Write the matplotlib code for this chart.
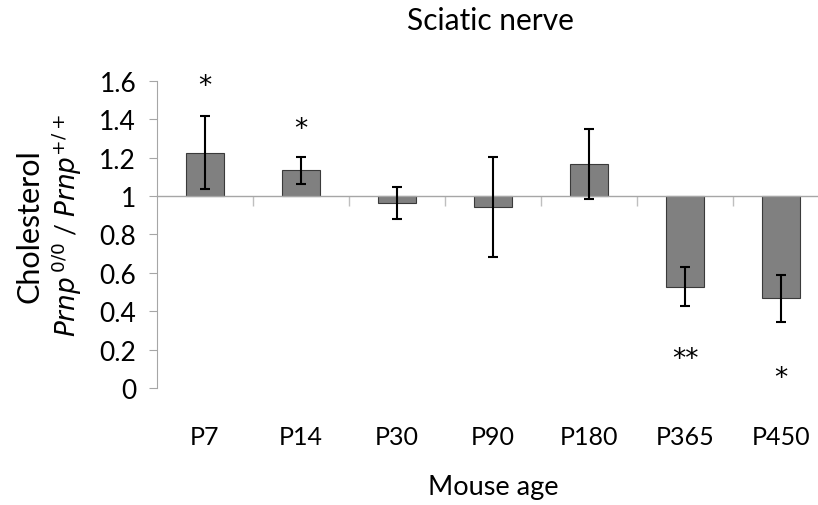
import matplotlib
matplotlib.use("Agg")
import matplotlib.pyplot as plt
import numpy as np

categories = ["P7", "P14", "P30", "P90", "P180", "P365", "P450"]
values = [1.225, 1.134, 0.964, 0.944, 1.167, 0.528, 0.466]
errors = [0.19, 0.07, 0.085, 0.26, 0.183, 0.10, 0.124]
stars = ["*", "*", "", "", "", "**", "*"]
star_y = [1.57, 1.35, None, None, None, 0.15, 0.05]
baseline = 1.0

plt.rcParams['font.family'] = ['Lato', 'DejaVu Sans']

fig = plt.figure(figsize=(8.18, 5.06), dpi=100)
W, H = 818, 506
ax = fig.add_axes([157 / W, (H - 389) / H, (818 - 157) / W, (389 - 81.7) / H])

x = np.arange(len(categories))
heights = [v - baseline for v in values]
ax.bar(x, heights, bottom=baseline, width=0.4, color="#808080",
       edgecolor="#3a3a3a", linewidth=0.8, zorder=2)
ax.errorbar(x, values, yerr=errors, fmt="none", ecolor="black",
            elinewidth=1.5, capsize=3.5, capthick=1.5, zorder=3)

for xi, s, sy in zip(x, stars, star_y):
    if s:
        ax.text(xi, sy, s, ha="center", va="center", fontsize=19, color="black",
                family="DejaVu Sans")

ax.set_ylim(0, 1.6)
ax.set_xlim(-0.5, -0.5 + (818 - 157) / 96.0)
ax.set_yticks(np.arange(0, 1.61, 0.2))
ax.set_yticklabels(["0", "0.2", "0.4", "0.6", "0.8", "1", "1.2", "1.4", "1.6"])

for s in ["top", "right"]:
    ax.spines[s].set_visible(False)
ax.spines["left"].set_color("#a6a6a6")
ax.spines["bottom"].set_position(("data", baseline))
ax.spines["bottom"].set_color("#a6a6a6")
ax.spines["bottom"].set_linewidth(1.0)

ax.set_xticks(x)
ax.set_xticklabels(categories)
ax.set_xticks(x[:-1] + 0.5, minor=True)
ax.tick_params(axis="x", which="major", length=0, pad=165, labelsize=18)
ax.tick_params(axis="x", which="minor", length=7, color="#bfbfbf", width=1)
ax.tick_params(axis="y", length=6, color="#a6a6a6", labelsize=19, pad=9)

fig.text(490 / W, 1 - 21 / H, "Sciatic nerve", ha="center", va="center", fontsize=21.5)
fig.text(493 / W, 1 - 488 / H, "Mouse age", ha="center", va="center", fontsize=19.5)
fig.text(30 / W, 1 - 226 / H, "Cholesterol", rotation=90, ha="center", va="center", fontsize=22)
fig.text(67 / W, 1 - 226 / H, r"$\it{Prnp}^{\,0/0}$ / $\it{Prnp}^{+/+}$", rotation=90,
         ha="center", va="center", fontsize=19)

fig.savefig("out.png", dpi=100)
